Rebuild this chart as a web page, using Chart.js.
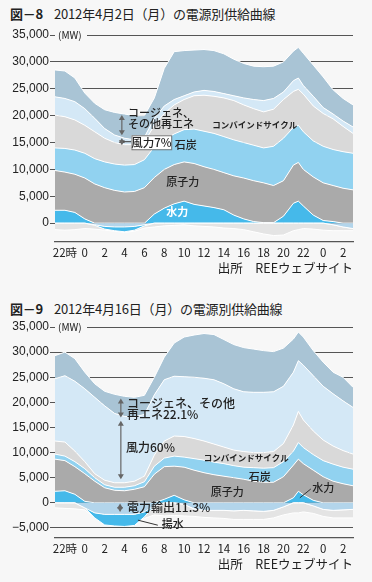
<!DOCTYPE html>
<html lang="ja">
<head>
<meta charset="utf-8">
<script src="https://cdn.jsdelivr.net/npm/chart.js@4.4.1/dist/chart.umd.min.js"></script>
<style>
  body { margin: 0; width: 372px; height: 582px; background: #f7f7f7; position: relative; overflow: hidden;
         font-family: "Noto Sans CJK JP", sans-serif; color: #222; }
  .title { position: absolute; left: 10px; font-size: 13px; white-space: nowrap; letter-spacing: -0.2px; }
  .title b { font-weight: 700; margin-right: 11px; }
  .src { position: absolute; right: 19px; font-size: 12.5px; white-space: nowrap; }
  canvas { position: absolute; left: 0; }
</style>
</head>
<body>
<div class="title" style="top:4px"><b>図－8</b>2012年4月2日（月）の電源別供給曲線</div>
<canvas id="chart1" width="372" height="235" style="top:25px"></canvas>
<div class="src" style="top:258px">出所　REEウェブサイト</div>

<div class="title" style="top:299px"><b>図－9</b>2012年4月16日（月）の電源別供給曲線</div>
<canvas id="chart2" width="372" height="238" style="top:318px"></canvas>
<div class="src" style="top:554px">出所　REEウェブサイト</div>

<script>
// 時刻 (0 = 当日0時, 前日21時〜翌々日3時)
const hours = [-3,-2,-1,0,1,2,3,4,5,6,7,8,9,10,11,12,13,14,15,16,17,18,19,20,21,21.5,22,23,24,25,26,27];
const xTickHours  = [-2, 0, 2, 4, 6, 8, 10, 12, 14, 16, 18, 20, 22, 24, 26];
const xTickLabels = ['22時', '0', '2', '4', '6', '8', '10', '12', '14', '16', '18', '20', '22', '0', '2'];

const yTicks1 = [0, 5000, 10000, 15000, 20000, 25000, 30000, 35000];
const yTicks2 = [-5000, 0, 5000, 10000, 15000, 20000, 25000, 30000, 35000];

// 図-8  2012年4月2日 (MW)
const hydro1   = [2400,2400,2000,800,0,0,0,0,0,0,1700,2800,3600,4100,3500,3200,2900,2500,1500,800,300,100,100,1300,3700,4100,3200,1500,500,300,0,0];
const nuclear1 = [7400,7100,7100,7600,7300,6600,6100,5800,5900,6600,6800,7200,7300,7300,7600,7300,7100,6900,7300,7600,7600,7400,6900,6600,7100,7200,6800,7100,7000,6700,6500,6200];
const coal1    = [4200,4400,4500,4600,4700,4800,4900,5000,5000,5200,5700,5500,5700,6000,6400,6600,6700,6700,6700,6600,6600,6500,7300,7900,7000,6900,7000,6700,6800,6700,6800,6800];
const cc1      = [6100,5900,5600,5200,5000,4400,4000,3800,3700,3300,4000,4900,5400,5600,6200,6700,6900,7200,7300,7000,6800,6700,6900,7200,6700,6700,7000,6500,6100,5700,4700,3700];
const wind1    = [3400,3400,3400,3100,2500,1800,1400,1200,900,900,1300,1400,1000,700,700,900,900,800,900,1300,1700,2100,2000,1400,2000,2100,1600,1800,1100,900,1000,1200];
const cogen1   = [5000,5100,4400,2900,2800,3500,4200,4500,4500,4000,3800,7000,8900,8400,7800,7600,7600,7400,6800,6400,6200,6300,6000,5600,5500,5700,6000,5800,5700,4500,4200,4100];
const export1  = [0,0,0,0,-300,-600,-700,-700,-600,-300,0,0,0,0,0,0,0,0,0,0,0,0,0,0,0,0,0,0,0,-300,-700,-1000];
const pump1    = [0,0,0,0,-100,-500,-700,-900,-700,-200,0,0,0,0,0,0,0,0,0,0,0,0,0,0,0,0,0,0,0,0,0,0];
const other1   = [-1200,-1300,-1200,-1000,-700,-200,-100,-100,-200,-400,-700,-500,-400,-300,-500,-600,-700,-900,-1000,-1200,-1600,-2000,-2300,-2200,-1400,-1200,-1000,-1100,-1300,-1100,-700,-400];

// 図-9  2012年4月16日 (MW)
const hydro2   = [2300,2400,1700,300,0,0,0,0,0,0,0,700,1500,600,0,0,0,0,0,0,0,0,0,0,1000,2300,1600,500,0,0,0,0];
const nuclear2 = [6400,6000,5500,5500,4300,3000,2500,2400,2700,3200,5700,6500,5800,6500,6500,6000,5600,5300,5000,4700,4300,4100,4100,5200,6500,6400,6200,6000,5200,4300,3800,3400];
const coal2    = [1000,900,1000,1000,700,600,600,700,700,1000,1600,1700,2000,2000,2300,2500,2500,2500,2400,2400,2700,2800,2900,3000,2800,3300,3200,3100,3200,3400,3300,3300];
const cc2      = [2600,2800,2100,1400,800,900,900,900,900,1100,2200,3400,4000,4100,4000,3800,3600,3300,3100,3100,3000,3100,3200,3600,5200,6200,5500,4700,4100,3600,3300,3000];
const wind2    = [12400,13200,13900,14500,15200,14800,13800,13200,12800,12300,12000,12200,11900,11900,12200,12500,12800,12600,12200,11900,12000,12000,11900,11400,10500,10100,10900,11000,10700,10400,9900,9300];
const cogen2   = [4600,4700,4500,3300,2700,2900,3800,4000,3900,3800,3500,4500,6600,7900,8400,8900,9000,8800,8800,8800,8600,8300,8000,7600,6600,5700,5600,5000,4800,4300,4700,4000];
const export2  = [0,0,0,-1000,-2000,-2300,-2300,-2300,-2300,-1800,-600,0,0,-300,-1200,-1500,-1500,-1500,-1600,-1500,-1600,-1700,-1500,-800,0,0,0,-600,-1300,-1500,-1400,-1300];
const pump2    = [0,0,0,0,-1000,-2100,-2300,-2400,-2200,-1000,0,0,0,0,0,0,0,0,0,0,0,0,0,0,0,0,0,0,0,0,0,0];
const other2   = [-1000,-1100,-1200,-400,0,0,0,0,0,-300,-1800,-2600,-2500,-2300,-1500,-1400,-1500,-1600,-1700,-1800,-1700,-1600,-1500,-1600,-2000,-2000,-1800,-1500,-1400,-1500,-1600,-1700];

const COL = {
    bg: '#f7f7f7', cogen: '#a9c4d5', wind: '#d4e8f6', cc: '#d9d9d9', coal: '#91d2f0',
    nuclear: '#aaaaaa', hydro: '#45b9ea', exp: '#b3d5eb', other: '#e4e4e4', text: '#222', arrow: '#666'
};
const FONT = '"Noto Sans CJK JP", sans-serif';

function band(data, color, stack, fill) {
    return { data, backgroundColor: color, borderColor: '#fff', borderWidth: 1, pointRadius: 0,
             tension: 0, stack, fill };
}

// 図中の注記 (テキスト・矢印)
const notesPlugin = {
    id: 'notes',
    afterDatasetsDraw(chart, args, opts) {
        const { ctx, chartArea, scales: { x, y } } = chart;
        const px = h => x.getPixelForValue(h);
        ctx.save();
        // (MW)
        const my = y.getPixelForValue(35000);
        ctx.fillStyle = COL.bg;
        ctx.fillRect(chartArea.left, my - 6, 32, 12);
        ctx.fillStyle = COL.text;
        ctx.font = '10px ' + FONT;
        ctx.textBaseline = 'middle';
        ctx.textAlign = 'left';
        ctx.fillText('(MW)', chartArea.left + 3, my);

        (opts.arrows || []).forEach(a => {
            const ax = px(a.h), y1 = y.getPixelForValue(a.from), y2 = y.getPixelForValue(a.to);
            ctx.strokeStyle = COL.arrow; ctx.fillStyle = COL.arrow; ctx.lineWidth = 1.2;
            ctx.beginPath(); ctx.moveTo(ax, y1 + 3); ctx.lineTo(ax, y2 - 3); ctx.stroke();
            [[y1, 1], [y2, -1]].forEach(([yy, d]) => {
                ctx.beginPath(); ctx.moveTo(ax, yy); ctx.lineTo(ax - 3, yy + d * 5); ctx.lineTo(ax + 3, yy + d * 5);
                ctx.closePath(); ctx.fill();
            });
        });
        (opts.lines || []).forEach(l => {
            ctx.strokeStyle = '#333'; ctx.lineWidth = 1;
            ctx.beginPath(); ctx.moveTo(px(l.h1), y.getPixelForValue(l.v1));
            ctx.lineTo(px(l.h2), y.getPixelForValue(l.v2)); ctx.stroke();
        });
        (opts.boxes || []).forEach(b => {
            const x1 = px(b.h1), x2 = px(b.h2), y1 = y.getPixelForValue(b.v1), y2 = y.getPixelForValue(b.v2);
            ctx.fillStyle = '#fff'; ctx.fillRect(x1, y1, x2 - x1, y2 - y1);
            ctx.strokeStyle = '#777'; ctx.lineWidth = 1; ctx.strokeRect(x1 + 0.5, y1 + 0.5, x2 - x1, y2 - y1);
        });
        (opts.texts || []).forEach(t => {
            ctx.fillStyle = t.color || COL.text;
            ctx.font = (t.weight || '500') + ' ' + (t.size || 12) + 'px ' + FONT;
            ctx.textAlign = t.align || 'left';
            ctx.textBaseline = 'middle';
            ctx.fillText(t.text, px(t.h), y.getPixelForValue(t.v));
        });
        ctx.restore();
    }
};

function makeChart(id, sets, yMin, yTicks, notes) {
    const datasets = [
        band(sets.exp, COL.exp, 'neg', 'origin'),
        band(sets.pump, COL.hydro, 'neg', '-1'),
        band(sets.other, COL.other, 'neg', '-1'),
        band(sets.hydro, COL.hydro, 'pos', 'origin'),
        band(sets.nuclear, COL.nuclear, 'pos', '-1'),
        band(sets.coal, COL.coal, 'pos', '-1'),
        band(sets.cc, COL.cc, 'pos', '-1'),
        band(sets.wind, COL.wind, 'pos', '-1'),
        band(sets.cogen, COL.cogen, 'pos', '-1')
    ];
    return new Chart(document.getElementById(id), {
        type: 'line',
        data: { labels: hours, datasets },
        plugins: [notesPlugin],
        options: {
            responsive: false,
            animation: false,
            layout: { padding: { top: notes.padTop, right: 19, left: 0, bottom: 0 } },
            plugins: { legend: { display: false }, tooltip: { enabled: false }, notes },
            scales: {
                x: {
                    type: 'linear', min: -3, max: 27,
                    afterBuildTicks: s => { s.ticks = xTickHours.map(v => ({ value: v })); },
                    grid: { display: false, drawTicks: false },
                    border: { display: true, color: '#555', width: 1.2 },
                    ticks: { autoSkip: false, maxRotation: 0, padding: 4, color: COL.text,
                             font: { family: FONT, size: 11.5 },
                             callback: (v, i) => xTickLabels[i] },
                    afterFit: s => { s.height = 18; }
                },
                y: {
                    stacked: true,
                    min: yMin, max: 35000,
                    afterBuildTicks: s => { s.ticks = yTicks.map(v => ({ value: v })); },
                    afterFit: s => { s.width = 55; },
                    border: { display: false },
                    grid: { color: '#555', lineWidth: 1, tickLength: 5, drawTicks: true },
                    ticks: {
                        padding: 1, color: COL.text, font: { family: '"Liberation Sans", Arial, sans-serif', size: 12 },
                        callback: v => (v < 0 ? '−' : '') + Math.abs(v).toLocaleString('en-US')
                    }
                }
            }
        }
    });
}

makeChart('chart1',
    { hydro: hydro1, nuclear: nuclear1, coal: coal1, cc: cc1, wind: wind1, cogen: cogen1,
      exp: export1, pump: pump1, other: other1 },
    -3500, yTicks1,
    {
        padTop: 10,
        arrows: [ { h: 3.73, from: 20100, to: 16350 }, { h: 3.73, from: 15850, to: 14500 } ],
        lines: [ { h1: 3.9, v1: 15150, h2: 4.7, v2: 15150 } ],
        boxes: [ { h1: 4.7, h2: 8.7, v1: 16350, v2: 13750 } ],
        texts: [
            { text: 'コージェネ、', h: 4.35, v: 20450, size: 11 },
            { text: 'その他再エネ', h: 4.35, v: 18400, size: 11 },
            { text: '風力7%', h: 6.7, v: 15050, align: 'center', size: 11.5 },
            { text: '石炭', h: 9.05, v: 14650, size: 11 },
            { text: '原子力', h: 9.85, v: 7650, align: 'center', size: 11 },
            { text: '水力', h: 9.3, v: 2050, align: 'center', color: '#fff', weight: '700', size: 11 },
            { text: 'コンバインドサイクル', h: 17.1, v: 18250, align: 'center', size: 8.5, weight: '700' }
        ]
    });

makeChart('chart2',
    { hydro: hydro2, nuclear: nuclear2, coal: coal2, cc: cc2, wind: wind2, cogen: cogen2,
      exp: export2, pump: pump2, other: other2 },
    -7000, yTicks2,
    {
        padTop: 9,
        arrows: [ { h: 3.63, from: 20750, to: 17000 }, { h: 3.63, from: 16350, to: 4700 },
                  { h: 3.55, from: -150, to: -1800 } ],
        lines: [ { h1: 5.35, v1: -3450, h2: 7.35, v2: -4450 }, { h1: 21.65, v1: 1000, h2: 22.75, v2: 2750 } ],
        texts: [
            { text: 'コージェネ、その他', h: 4.25, v: 19750 },
            { text: '再エネ22.1%', h: 4.25, v: 17650 },
            { text: '風力60%', h: 4.15, v: 11000 },
            { text: '電力輸出11.3%', h: 4.25, v: -850 },
            { text: '揚水', h: 7.75, v: -4250, size: 11 },
            { text: 'コンバインドサイクル', h: 16.25, v: 8950, align: 'center', size: 8.5, weight: '700' },
            { text: '石炭', h: 17.6, v: 5150, align: 'center', size: 11 },
            { text: '原子力', h: 14.35, v: 2200, align: 'center', size: 11 },
            { text: '水力', h: 22.9, v: 3000, size: 11 }
        ]
    });
</script>
</body>
</html>
